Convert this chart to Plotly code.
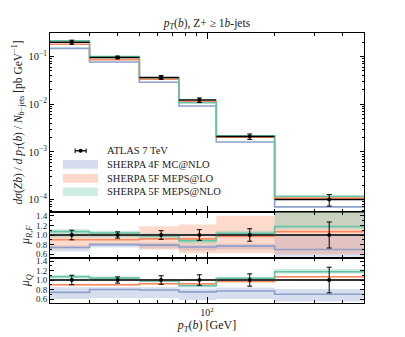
import plotly.graph_objects as go

# bin edges in pT(b) [GeV]
edges = [20, 30, 50, 75, 110, 200, 500]

# ATLAS 7 TeV data and relative uncertainty
data = [0.201, 0.096, 0.0366, 0.0122, 0.0021, 1.0e-4]
data_relerr = [0.10, 0.065, 0.09, 0.11, 0.13, 0.27]

# MC / data central ratios
r_4f = [0.74, 0.80, 0.79, 0.75, 0.77, 0.70]
r_lo = [0.90, 0.90, 0.92, 0.92, 0.97, 1.07]
r_nlo = [1.07, 1.04, 0.98, 0.88, 1.035, 1.175]

# mu_R,F variation bands
rf_4f_dn = [0.66, 0.74, 0.72, 0.68, 0.70, 0.55]
rf_4f_up = [0.78, 0.84, 0.84, 0.80, 0.82, 1.00]
rf_lo_dn = [0.72, 0.80, 0.70, 0.62, 0.62, 0.60]
rf_lo_up = [1.03, 1.05, 1.18, 1.22, 1.40, 1.60]
rf_nlo_dn = [0.95, 0.95, 0.93, 0.82, 0.99, 1.12]
rf_nlo_up = [1.12, 1.09, 1.03, 0.94, 1.09, 1.60]

# mu_Q variation bands
q_4f_dn = [0.60, 0.62, 0.62, 0.58, 0.60, 0.55]
q_4f_up = [0.85, 0.86, 0.85, 0.82, 0.84, 0.81]
q_lo_dn = [0.88, 0.88, 0.90, 0.90, 0.95, 1.05]
q_lo_up = [0.92, 0.92, 0.94, 0.94, 0.99, 1.09]
q_nlo_dn = [1.03, 1.01, 0.95, 0.84, 1.00, 1.13]
q_nlo_up = [1.11, 1.08, 1.02, 0.91, 1.07, 1.23]

names = ["SHERPA 4F MC@NLO", "SHERPA 5F MEPS@LO", "SHERPA 5F MEPS@NLO"]
lcol = ["#8da0cb", "#f98a5e", "#66c2a5"]
fcol = ["rgba(141,160,203,0.35)", "rgba(252,141,98,0.32)", "rgba(102,194,165,0.35)"]
legcol = ["#d6dcee", "#fdd7c8", "#cdeee0"]

centers = [(edges[i] + edges[i + 1]) / 2 for i in range(len(data))]
halfw = [(edges[i + 1] - edges[i]) / 2 for i in range(len(data))]
FONT = "Liberation Serif"
TXT = "#222222"

# page body adds an 8px offset, so the figure is 8px smaller
W, H = 397, 329


def step_y(v):
    return list(v) + [v[-1]]


def band(lo, hi):
    xs, ys = [], []
    for i in range(len(hi)):
        xs += [edges[i], edges[i + 1]]
        ys += [hi[i], hi[i]]
    for i in reversed(range(len(lo))):
        xs += [edges[i + 1], edges[i]]
        ys += [lo[i], lo[i]]
    return xs, ys


fig = go.Figure()

# main panel
ratios = [r_4f, r_lo, r_nlo]
for k in range(3):
    mc = [data[i] * ratios[k][i] for i in range(len(data))]
    fig.add_trace(go.Scatter(x=edges, y=step_y(mc), mode="lines", line_shape="hv",
                             line=dict(color=lcol[k], width=1.6), showlegend=False,
                             xaxis="x", yaxis="y"))
fig.add_trace(go.Scatter(x=centers, y=data, mode="markers", marker=dict(color="black", size=4),
                         error_y=dict(type="data", array=[data[i] * data_relerr[i] for i in range(len(data))],
                                      color="black", thickness=1, width=2.5),
                         error_x=dict(type="data", array=halfw, color="black", thickness=1.5, width=0),
                         showlegend=False, xaxis="x", yaxis="y"))

# ratio panels
panels = [("x2", "y2", [(rf_4f_dn, rf_4f_up), (rf_lo_dn, rf_lo_up), (rf_nlo_dn, rf_nlo_up)]),
          ("x3", "y3", [(q_4f_dn, q_4f_up), (q_lo_dn, q_lo_up), (q_nlo_dn, q_nlo_up)])]
for xa, ya, bands in panels:
    for k in range(3):
        bx, by = band(*bands[k])
        fig.add_trace(go.Scatter(x=bx, y=by, mode="lines", fill="toself", fillcolor=fcol[k],
                                 line=dict(width=0), showlegend=False, xaxis=xa, yaxis=ya))
    for k in range(3):
        fig.add_trace(go.Scatter(x=edges, y=step_y(ratios[k]), mode="lines", line_shape="hv",
                                 line=dict(color=lcol[k], width=1.6), showlegend=False,
                                 xaxis=xa, yaxis=ya))
    fig.add_trace(go.Scatter(x=centers, y=[1.0] * len(data), mode="markers",
                             marker=dict(color="black", size=4),
                             error_y=dict(type="data", array=data_relerr, color="black", thickness=1, width=2.5),
                             error_x=dict(type="data", array=halfw, color="#333333", thickness=2, width=0),
                             showlegend=False, xaxis=xa, yaxis=ya))

# legend drawn inside the main panel
leg_y = [0.342, 0.266, 0.188, 0.113]
fig.add_shape(type="line", xref="x domain", yref="y domain", x0=0.080, x1=0.115,
              y0=leg_y[0], y1=leg_y[0], line=dict(color="black", width=1.3))
for xc in [0.080, 0.115]:
    fig.add_shape(type="line", xref="x domain", yref="y domain", x0=xc, x1=xc,
                  y0=leg_y[0] - 0.013, y1=leg_y[0] + 0.013, line=dict(color="black", width=1))
fig.add_shape(type="circle", xref="x domain", yref="y domain", x0=0.091, x1=0.104,
              y0=leg_y[0] - 0.011, y1=leg_y[0] + 0.011, fillcolor="black", line=dict(width=0))
for k in range(3):
    fig.add_shape(type="rect", xref="x domain", yref="y domain", x0=0.041, x1=0.153,
                  y0=leg_y[k + 1] - 0.024, y1=leg_y[k + 1] + 0.024, fillcolor=legcol[k],
                  line=dict(width=0))
for label, yy in zip(["ATLAS 7 TeV"] + names, leg_y):
    fig.add_annotation(text=label, xref="x domain", yref="y domain", x=0.175, y=yy,
                       xanchor="left", yanchor="middle", showarrow=False,
                       font=dict(family=FONT, size=10.5, color=TXT))

minor_x = [20, 30, 40, 50, 60, 70, 80, 90, 200, 300, 400]
xcommon = dict(type="log", range=[1.30103, 2.69897], showline=True, linecolor="black", linewidth=1,
               mirror="allticks", ticks="inside", ticklen=6, tickcolor="black", automargin=False,
               tickvals=[100], showgrid=False, zeroline=False,
               minor=dict(tickmode="array", tickvals=minor_x, ticks="inside", ticklen=3,
                          tickcolor="black", showgrid=False))

ycommon = dict(showline=True, linecolor="black", linewidth=1, mirror="allticks", ticks="inside",
               ticklen=4, tickcolor="black", showgrid=False, zeroline=False, automargin=False)

rcommon = dict(ycommon, tickvals=[0.6, 0.8, 1.0, 1.2, 1.4],
               ticktext=["0.6", "0.8", "1.0", "1.2", "1.4"],
               tickfont=dict(family=FONT, size=9, color=TXT),
               minor=dict(tickmode="array", tickvals=[0.7, 0.9, 1.1, 1.3], ticks="inside",
                          ticklen=2, tickcolor="black"))

main_minor = []
for dec in [1e-5, 1e-4, 1e-3, 1e-2, 1e-1]:
    for m in range(2, 10):
        main_minor.append(m * dec)

fig.update_layout(
    width=W, height=H,
    margin=dict(l=42, r=41, t=25, b=34, autoexpand=False),
    paper_bgcolor="white", plot_bgcolor="white",
    font=dict(family=FONT, size=11, color=TXT),
    showlegend=False,
    title=dict(text="<i>p</i><sub><i>T</i></sub>(<i>b</i>), Z+ ≥ 1<i>b</i>-jets",
               x=199 / W, xanchor="center", y=1 - 15 / H, yanchor="middle",
               font=dict(family=FONT, size=11.5, color=TXT)),
    xaxis=dict(xcommon, anchor="y", showticklabels=False),
    xaxis2=dict(xcommon, anchor="y2", matches="x", showticklabels=False),
    xaxis3=dict(xcommon, anchor="y3", matches="x", ticktext=["10<sup>2</sup>"],
                tickfont=dict(family=FONT, size=10, color=TXT),
                title=dict(text="<i>p</i><sub><i>T</i></sub>(<i>b</i>) [GeV]", standoff=2,
                           font=dict(family=FONT, size=12, color=TXT))),
    yaxis=dict(ycommon, type="log", domain=[0.337, 1.0], range=[-4.262, -0.505],
               tickvals=[1e-4, 1e-3, 1e-2, 1e-1],
               ticktext=["10<sup>−4</sup>", "10<sup>−3</sup>", "10<sup>−2</sup>", "10<sup>−1</sup>"],
               tickfont=dict(family=FONT, size=10.5, color=TXT),
               minor=dict(tickmode="array", tickvals=main_minor, ticks="inside", ticklen=2,
                          tickcolor="black", showgrid=False),
               title=dict(text="<i>dσ</i>(<i>Zb</i>) / <i>d p</i><sub><i>T</i></sub>(<i>b</i>) / "
                               "<i>N</i><sub><i>b</i>−jets</sub> [pb GeV<sup>−1</sup>]",
                          standoff=3, font=dict(family=FONT, size=11.5, color=TXT))),
    yaxis2=dict(rcommon, domain=[0.1685, 0.337], range=[0.533, 1.477],
                title=dict(text="<i>μ</i><sub><i>R,F</i></sub>", standoff=3,
                           font=dict(family=FONT, size=12, color=TXT))),
    yaxis3=dict(rcommon, domain=[0.0, 0.1685], range=[0.516, 1.474],
                title=dict(text="<i>μ</i><sub><i>Q</i></sub>", standoff=3,
                           font=dict(family=FONT, size=12, color=TXT))),
)

fig.write_html("out.html")
